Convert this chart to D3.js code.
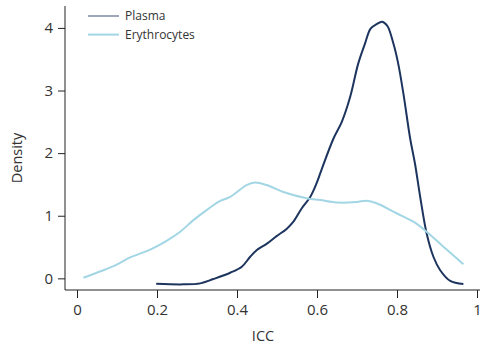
<!DOCTYPE html>
<html>
<head>
<meta charset="utf-8">
<script src="https://cdn.jsdelivr.net/npm/d3@7/dist/d3.min.js"></script>
<style>
  body { margin: 0; background: #fff; }
  text { font-family: "Open Sans", "Noto Sans", sans-serif; fill: #333; }
</style>
</head>
<body>
<div id="chart"></div>
<script>
// density estimates
var plasmaX = [0.198, 0.266, 0.308, 0.341, 0.383, 0.412, 0.433, 0.449, 0.474, 0.499, 0.524, 0.541, 0.562, 0.583, 0.599, 0.611,
               0.641, 0.662, 0.683, 0.703, 0.720, 0.734, 0.749, 0.763, 0.776, 0.791, 0.803, 0.816, 0.833,
               0.845, 0.858, 0.874, 0.891, 0.908, 0.933, 0.966];
var plasmaY = [-0.087, -0.096, -0.08, -0.011, 0.09, 0.185, 0.345, 0.45, 0.55, 0.675, 0.79, 0.905, 1.12, 1.30, 1.52, 1.73,
               2.23, 2.50, 2.90, 3.43, 3.75, 3.99, 4.06, 4.10, 4.03, 3.75, 3.43, 2.95, 2.23,
               1.83, 1.30, 0.72, 0.345, 0.13, -0.04, -0.09];

var eryX = [0.016, 0.066, 0.099, 0.133, 0.183, 0.224, 0.258, 0.291, 0.324, 0.356, 0.383, 0.424, 0.445, 0.474, 0.516,
            0.574, 0.608, 0.653, 0.699, 0.724, 0.749, 0.799, 0.841, 0.874, 0.916, 0.966];
var eryY = [0.01, 0.13, 0.22, 0.335, 0.46, 0.60, 0.745, 0.93, 1.09, 1.23, 1.30, 1.49, 1.53, 1.49, 1.38,
            1.28, 1.25, 1.21, 1.22, 1.24, 1.20, 1.04, 0.905, 0.745, 0.505, 0.225];

var xTicks = [0, 0.2, 0.4, 0.6, 0.8, 1];
var yTicks = [0, 1, 2, 3, 4];
var seriesNames = ["Plasma", "Erythrocytes"];
var colors = ["#1d355e", "#a3d6e5"];

var width = 482, height = 345;

var x = d3.scaleLinear().domain([-0.03, 1.0125]).range([65, 482]);
var y = d3.scaleLinear().domain([-0.17, 4.35]).range([289, 6]);

var svg = d3.select("#chart").append("svg")
    .attr("width", width)
    .attr("height", height);

// axes
var xAxis = svg.append("g")
    .attr("transform", "translate(0,290)")
    .call(d3.axisBottom(x).tickValues(xTicks).tickSize(8).tickPadding(6)
          .tickFormat(function(d) { return d; }));
xAxis.select(".domain").attr("d", "M65,0H480").attr("stroke", "#222");

var yAxis = svg.append("g")
    .attr("transform", "translate(65,0)")
    .call(d3.axisLeft(y).tickValues(yTicks).tickSize(7).tickPadding(5)
          .tickFormat(function(d) { return d; }));
yAxis.select(".domain").attr("d", "M0,6V290").attr("stroke", "#222");

svg.selectAll(".tick line").attr("stroke", "#222");
svg.selectAll(".tick text")
    .style("font-size", "15px")
    .attr("fill", "#333");

// axis titles
svg.append("text")
    .attr("x", 263).attr("y", 336)
    .attr("dy", "0.35em")
    .attr("text-anchor", "middle")
    .style("font-size", "14.5px")
    .text("ICC");

svg.append("text")
    .attr("transform", "translate(17,158) rotate(-90)")
    .attr("dy", "0.35em")
    .attr("text-anchor", "middle")
    .style("font-size", "14.5px")
    .text("Density");

// curves
var line = d3.line()
    .x(function(d) { return x(d[0]); })
    .y(function(d) { return y(d[1]); })
    .curve(d3.curveCatmullRom);

var series = [d3.zip(plasmaX, plasmaY), d3.zip(eryX, eryY)];

svg.selectAll(".curve").data(series).enter().append("path")
    .attr("class", "curve")
    .attr("d", line)
    .attr("fill", "none")
    .attr("stroke", function(d, i) { return colors[i]; })
    .attr("stroke-width", 2);

// legend
var legend = svg.selectAll(".legend").data(seriesNames).enter().append("g")
    .attr("class", "legend")
    .attr("transform", function(d, i) { return "translate(88," + (16 + i * 18.6) + ")"; });

legend.append("line")
    .attr("x1", 0).attr("x2", 31)
    .attr("stroke", function(d, i) { return i == 0 ? "#5d6f90" : "#a3d6e5"; })
    .attr("stroke-width", function(d, i) { return i == 0 ? 1.2 : 2; });

legend.append("text")
    .attr("x", 37).attr("dy", "0.35em")
    .style("font-size", "12px")
    .text(function(d) { return d; });
</script>
</body>
</html>
